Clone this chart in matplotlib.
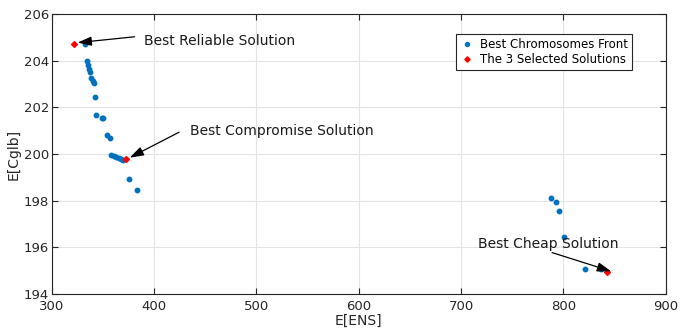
import matplotlib
matplotlib.use("Agg")
import matplotlib.pyplot as plt

# Pareto front of the best chromosomes: expected ENS vs expected cost
ens = [333.0, 334.1, 335.7, 336.7, 337.3, 338.9, 340.6, 341.6, 342.5,
       343.2, 348.7, 350.0, 354.5, 357.1, 358.4, 361.0, 363.3, 365.5,
       368.2, 369.4, 375.6, 383.7,
       788.1, 792.4, 795.9, 800.3, 821.0, 837.0]
cost = [204.73, 204.00, 203.84, 203.67, 203.51, 203.27, 203.13, 203.07, 202.47,
        201.66, 201.57, 201.53, 200.83, 200.69, 199.96, 199.90, 199.87, 199.84,
        199.80, 199.77, 198.94, 198.46,
        198.11, 197.94, 197.56, 196.45, 195.07, 195.07]

# reliable / compromise / cheap
sel_ens = [321.4, 372.3, 842.6]
sel_cost = [204.73, 199.80, 194.93]

labels = ["Best Reliable Solution", "Best Compromise Solution", "Best Cheap Solution"]
text_pos = [(390, 204.84), (435, 200.99), (717, 196.14)]
arrow_tail = [(381, 205.03), (424.5, 200.94), (789, 195.78)]

plt.rcParams['font.family'] = ['DejaVu Sans']
plt.rcParams['font.size'] = 10

fig = plt.figure(figsize=(6.8, 3.29), dpi=100, facecolor="w")
ax = fig.add_axes([0.076, 0.106, 0.903, 0.851])

ax.plot(ens, cost, ls='none', marker='o', ms=3.2, c='#0072BD',
        label='Best Chromosomes Front')
ax.plot(sel_ens, sel_cost, ls='none', marker='D', ms=3.0, c='#FF0000',
        label='The 3 Selected Solutions')

for lab, (tx, ty), (ax_, ay), hx, hy in zip(labels, text_pos, arrow_tail,
                                            sel_ens, sel_cost):
    ax.text(tx, ty, lab, va='center', ha='left', color='#1a1a1a', fontsize=10)
    ax.annotate('', xy=(hx + 4, hy + 0.05), xytext=(ax_, ay),
                arrowprops=dict(arrowstyle='-|>,head_length=0.6,head_width=0.2',
                                color='k', lw=0.9, mutation_scale=14,
                                shrinkA=0, shrinkB=0))

ax.set_xlim(300, 900)
ax.set_ylim(194, 206)
ax.set_xticks(range(300, 901, 100))
ax.set_yticks(range(194, 207, 2))
ax.set_xlabel('E[ENS]', color='#262626', labelpad=0.5)
ax.set_ylabel('E[Cglb]', color='#262626', labelpad=2)
ax.grid(color='#e3e3e3', lw=0.8)
ax.set_axisbelow(True)
ax.tick_params(direction='in', top=True, right=True, colors='#262626',
               length=4, labelsize=9.5)
ax.tick_params(axis='x', pad=4)
ax.tick_params(axis='y', pad=2)
for s in ax.spines.values():
    s.set_color('#262626')
    s.set_linewidth(0.8)

leg = ax.legend(loc='upper right', bbox_to_anchor=(0.945, 0.93), fontsize=8.5,
                fancybox=False, edgecolor='#262626', framealpha=1,
                handletextpad=0.5, handlelength=1.2, borderpad=0.35,
                labelspacing=0.15, borderaxespad=0, markerscale=0.9)
leg.get_frame().set_linewidth(0.8)

plt.savefig("out.png", dpi=100)
